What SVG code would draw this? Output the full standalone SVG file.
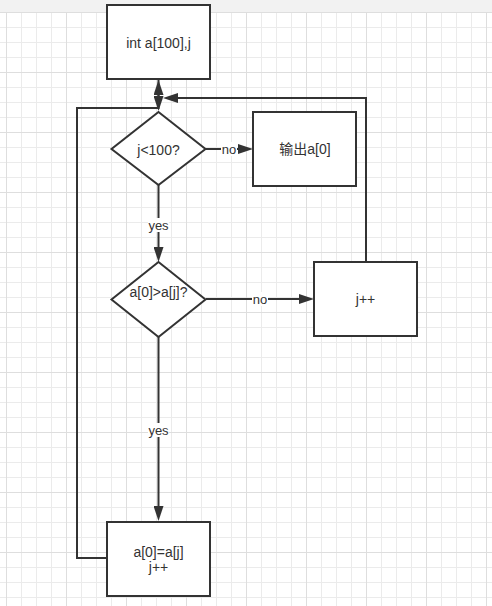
<svg xmlns="http://www.w3.org/2000/svg" width="492" height="606" viewBox="0 0 492 606">
  <style>
    .node { fill: #ffffff; stroke: #333333; stroke-width: 2; }
    .edge { fill: none; stroke: #333333; stroke-width: 2; }
    .txt { font-family: "Liberation Sans", "Noto Sans CJK SC", sans-serif; font-size: 14px; fill: #333333; text-anchor: middle; }
    .lbl { font-family: "Liberation Sans", "Noto Sans CJK SC", sans-serif; font-size: 13px; fill: #333333; text-anchor: middle; }
    .lblbg { fill: #ffffff; }
  </style>
  <defs>
    <pattern id="grid" patternUnits="userSpaceOnUse" x="6" y="12" width="60" height="60">
      <path d="M15.5,0 V60 M30.5,0 V60 M45.5,0 V60 M0,15.5 H60 M0,30.5 H60 M0,45.5 H60" stroke="#ebebeb" stroke-width="1" fill="none"/>
      <path d="M0.5,0 V60 M0,0.5 H60" stroke="#dedede" stroke-width="1" fill="none"/>
    </pattern>
    <marker id="arrow" markerUnits="userSpaceOnUse" viewBox="0 0 15 10" refX="10" refY="5" markerWidth="15" markerHeight="10" orient="auto">
      <path d="M0,0 L15,5 L0,10 Z" fill="#333333"/>
    </marker>
  </defs>

  <rect x="0" y="0" width="492" height="606" fill="#ffffff"/>
  <rect x="0" y="12" width="492" height="594" fill="url(#grid)"/>
  <rect x="0" y="0" width="492" height="12" fill="#f2f2f2"/>

  <g id="connectors">
    <path class="edge" d="M158.5,79 V106" marker-end="url(#arrow)"/>
    <path class="edge" d="M107,558 H77 V108 H158.5 V85" marker-end="url(#arrow)"/>
    <path class="edge" d="M206,149 H248" marker-end="url(#arrow)"/>
    <path class="edge" d="M158.5,185 V257" marker-end="url(#arrow)"/>
    <path class="edge" d="M206,299 H309" marker-end="url(#arrow)"/>
    <path class="edge" d="M158.5,337 V516" marker-end="url(#arrow)"/>
    <path class="edge" d="M366,262 V98 H168" marker-end="url(#arrow)"/>
    <g id="label-no-1">
      <rect class="lblbg" x="221" y="142" width="16" height="14"/>
      <text class="lbl" x="229" y="153.5">no</text>
    </g>
    <g id="label-yes-1">
      <rect class="lblbg" x="148" y="218" width="21" height="14"/>
      <text class="lbl" x="158.5" y="229.5">yes</text>
    </g>
    <g id="label-no-2">
      <rect class="lblbg" x="252" y="292" width="16" height="14"/>
      <text class="lbl" x="260" y="303.5">no</text>
    </g>
    <g id="label-yes-2">
      <rect class="lblbg" x="148" y="423" width="21" height="14"/>
      <text class="lbl" x="158.5" y="434.5">yes</text>
    </g>
  </g>

  <g id="node-init">
    <rect class="node" x="107" y="5" width="103" height="74"/>
    <text class="txt" x="158.5" y="47.5">int a[100],j</text>
  </g>
  <g id="node-cond1">
    <polygon class="node" points="158.5,112 205.5,149 158.5,185 111.5,149"/>
    <text class="txt" x="158.5" y="154.5">j&lt;100?</text>
  </g>
  <g id="node-output">
    <rect class="node" x="253" y="112" width="103" height="74"/>
    <text class="txt" x="305" y="154">输出a[0]</text>
  </g>
  <g id="node-cond2">
    <polygon class="node" points="158.5,262 205.5,299.5 158.5,337 111.5,299.5"/>
    <text class="txt" x="158.5" y="296.5">a[0]&gt;a[j]?</text>
  </g>
  <g id="node-inc">
    <rect class="node" x="314" y="262" width="103" height="74"/>
    <text class="txt" x="365.5" y="304">j++</text>
  </g>
  <g id="node-assign">
    <rect class="node" x="107" y="522" width="103" height="74"/>
    <text class="txt" x="158.5" y="556.5">a[0]=a[j]</text>
    <text class="txt" x="158.5" y="571.5">j++</text>
  </g>
</svg>
